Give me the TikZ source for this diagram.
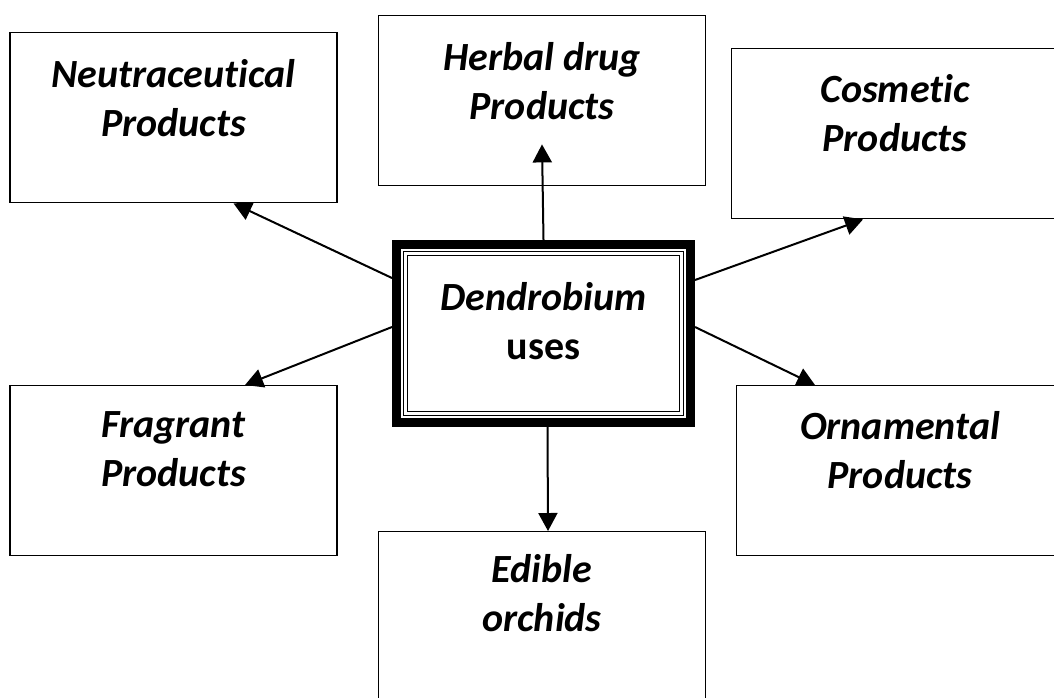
\documentclass[tikz,border=0pt]{standalone}
\usepackage{fontspec}
\setmainfont{Carlito}[Ligatures=NoCommon]
\usetikzlibrary{arrows.meta,positioning}
\tikzstyle{block} = [rectangle, draw, line width=0.7pt, anchor=north,
    minimum width=163.5pt, minimum height=85pt]
\tikzstyle{hub} = [rectangle, draw, line width=4.5pt,
    minimum width=147pt, minimum height=89pt]
\tikzstyle{boxtext} = [align=center, inner sep=0pt,
    font=\fontsize{20}{24.5}\selectfont\bfseries\itshape]
\tikzstyle{arrow} = [-{Triangle[length=9pt,width=9.5pt]}, line width=1pt]

\begin{document}
\begin{tikzpicture}[x=0.5pt, y=-0.5pt]
        \clip (0,0) rectangle (1054,697);
        % Nodes
        \node (neut) [block] at (173.5,32) {};
        \node (herbal) [block] at (542,15) {};
        \node (cosmetic) [block] at (895,48) {};
        \node (fragrant) [block] at (173.5,385) {};
        \node (ornamental) [block] at (900,385) {};
        \node (edible) [block] at (542,531) {};
        \node (hub) [hub] at (543.5,333.5) {};
        \draw[double, line width=0.5pt, double distance=1.5pt]
            ([shift={(6.75pt,-6.75pt)}]hub.north west) rectangle ([shift={(-6.75pt,6.75pt)}]hub.south east);

        \node (neutT) [boxtext, below=13.5pt of neut.north] {Neutraceutical\\Products};
        \node (herbalT) [boxtext, below=13.5pt of herbal.north] {Herbal drug\\Products};
        \node (cosmeticT) [boxtext, below=13pt of cosmetic.north] {Cosmetic\\Products};
        \node (fragrantT) [boxtext, below=13pt of fragrant.north] {Fragrant\\Products};
        \node (ornamentalT) [boxtext, below=13pt of ornamental.north] {Ornamental\\Products};
        \node (edibleT) [boxtext, below=11.5pt of edible.north] {Edible\\orchids};
        \node (hubT) [boxtext, below=21pt of hub.north] {Dendrobium\\{\upshape uses}};

        % Arrows
        \draw[arrow] (hub.north) -- ([yshift=21pt]herbal.south);
        \draw[arrow] ([yshift=27.75pt]hub.west) -- ([xshift=30pt]neut.south);
        \draw[arrow] ([yshift=26.75pt]hub.east) -- ([xshift=-16pt]cosmetic.south);
        \draw[arrow] ([yshift=3.25pt]hub.west) -- ([xshift=35.75pt]fragrant.north);
        \draw[arrow] ([yshift=3.25pt]hub.east) -- ([xshift=-42.5pt]ornamental.north);
        \draw[arrow] ([xshift=2pt]hub.south) -- ([xshift=3pt]edible.north);
    \end{tikzpicture}
\end{document}
